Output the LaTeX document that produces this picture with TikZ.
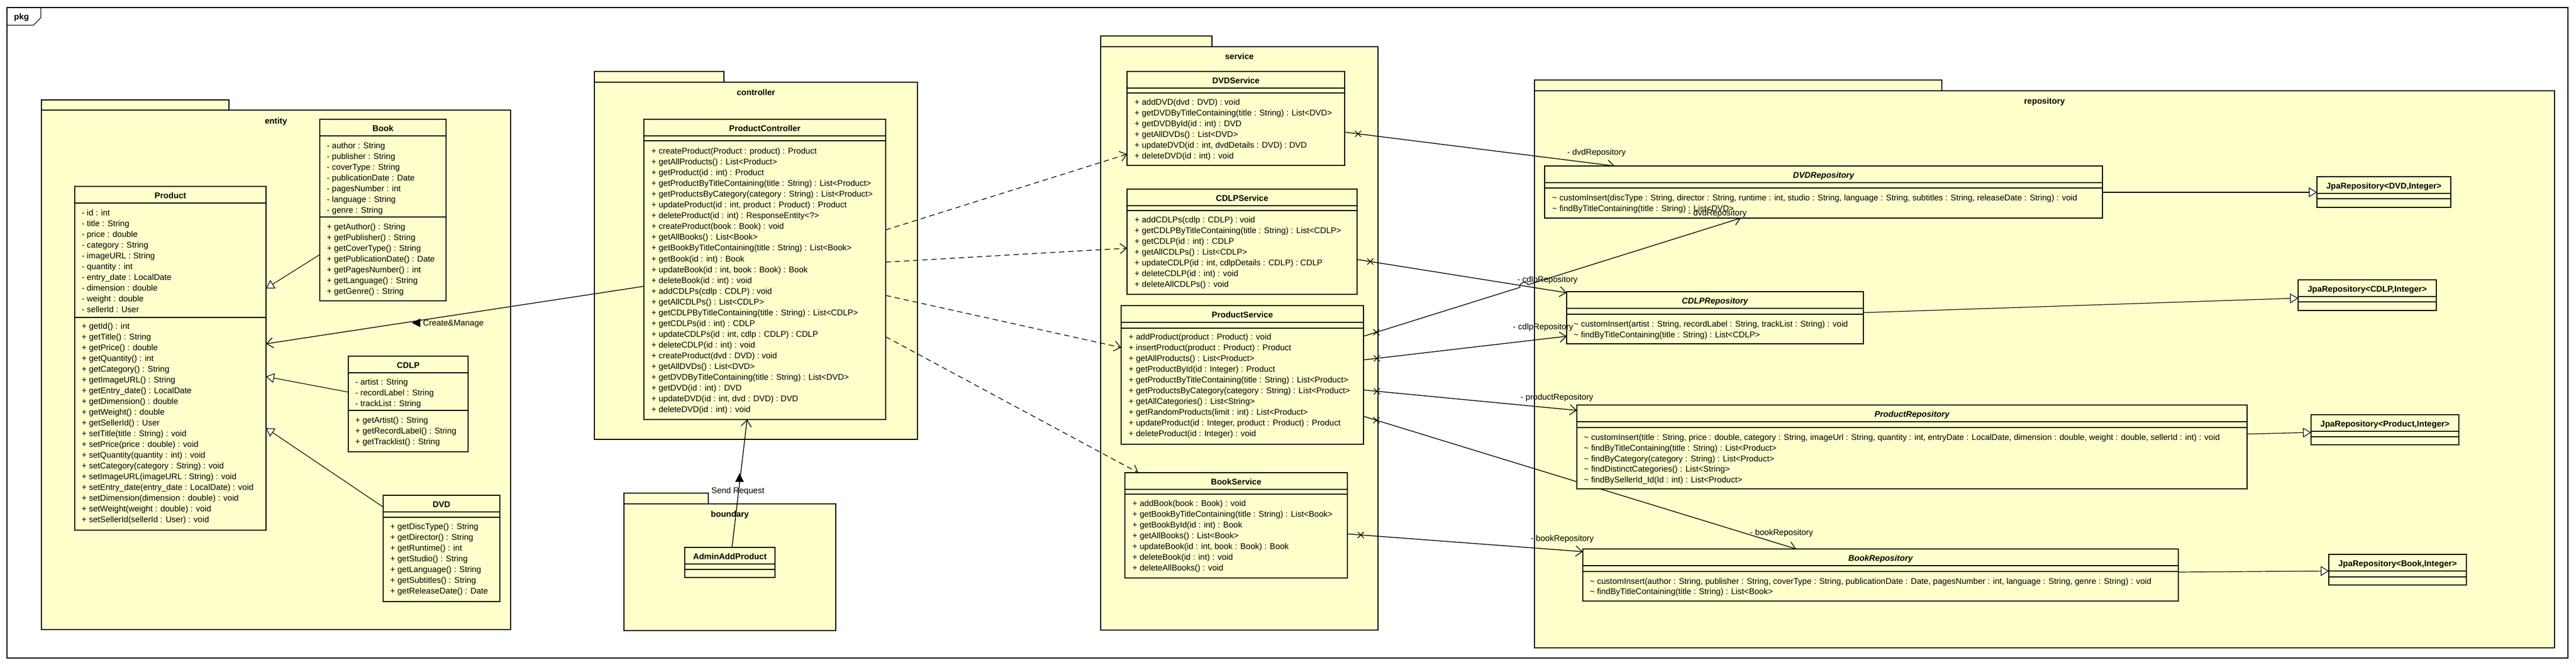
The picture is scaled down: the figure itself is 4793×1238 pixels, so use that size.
\documentclass[tikz,border=0pt]{standalone}
\usepackage{fontspec}
\setmainfont{Liberation Sans}
\usetikzlibrary{arrows.meta,calc,positioning,shapes.misc}

\definecolor{pkgyellow}{RGB}{255,255,204}

\pgfdeclarelayer{pkgs}
\pgfdeclarelayer{wires}
\pgfsetlayers{pkgs,wires,main}

\tikzset{
	pkgbody/.style={draw, line width=2.4pt, fill=pkgyellow},
	pkgname/.style={font=\fontsize{15.5pt}{19pt}\selectfont\bfseries, inner sep=0pt, anchor=base},
	umlclass/.style={draw, line width=2.6pt, fill=pkgyellow, inner sep=0pt, outer sep=0pt, anchor=north west},
	classname/.style={font=\fontsize{15.5pt}{19pt}\selectfont\bfseries, inner sep=0pt},
	abstractname/.style={font=\fontsize{15.5pt}{19pt}\selectfont\bfseries\itshape, inner sep=0pt},
	member/.style={font=\fontsize{15.5pt}{19pt}\selectfont, anchor=base west, inner sep=0pt},
	rolename/.style={font=\fontsize{15.5pt}{19pt}\selectfont, anchor=base west, inner sep=0pt},
	compline/.style={line width=1.1pt},
	generalize/.style={line width=1.2pt, -{Triangle[open, length=15pt, width=18pt, fill=white]}},
	navassoc/.style={line width=1.4pt, -{Straight Barb[length=12pt, width=19pt, line width=1.4pt]}},
	usedep/.style={line width=1.3pt, dash pattern=on 10pt off 7pt, -{Straight Barb[length=12pt, width=19pt, line width=1.3pt]}},
	xmark/.style={cross out, draw, line width=1.3pt, minimum size=10pt, inner sep=0pt},
}

\begin{document}
\begin{tikzpicture}[x=1pt, y=-1pt, line join=miter]
	
	% class box: title style, name, x, y, width, height, second rule, title
	\def\umlbox#1#2#3#4#5#6#7#8{%
		\node[umlclass, minimum width=#5pt, minimum height=#6pt] (#2) at (#3,#4) {};
		\node[#1, anchor=base] (#2title) at ([yshift=-22.5pt]#2.north) {#8};
		\draw[compline] ([yshift=-31pt]#2.north west) -- ([yshift=-31pt]#2.north east);
		\draw[compline] ([yshift=-#7pt]#2.north west) -- ([yshift=-#7pt]#2.north east);
	}
	% member lines: prefix, x, first baseline, step, list
	\def\members#1#2#3#4#5{%
		\foreach \m [count=\i from 0] in {#5}
		\node[member] (#1\i) at (#2,{#3+#4*\i}) {\m};
	}
	
	\useasboundingbox (0,0) rectangle (4793,1238);
	
	\begin{pgfonlayer}{pkgs}
		\fill[white] (0,0) rectangle (4793,1238);
		
		% outer frame
		\draw[line width=1.2pt] (13,14) rectangle (4778,1225);
		\draw[line width=1.2pt] (13,47) -- (62,47) -- (76,33) -- (76,14);
		\node[pkgname, anchor=base west] (pkglbl) at (26,37) {pkg};
		
		% packages
		\filldraw[pkgbody] (77,186) rectangle (426,205);
		\filldraw[pkgbody] (77,205) rectangle (950,1172);
		\node[pkgname] (entitylbl) at (513.5,230.5) {entity};
		
		\filldraw[pkgbody] (1106,133) rectangle (1347,153);
		\filldraw[pkgbody] (1106,153) rectangle (1707,818);
		\node[pkgname] (ctrllbl) at (1406.5,177.5) {controller};
		
		\filldraw[pkgbody] (1161,918) rectangle (1318,938);
		\filldraw[pkgbody] (1161,938) rectangle (1555,1174);
		\node[pkgname] (boundlbl) at (1358,962.5) {boundary};
		
		\filldraw[pkgbody] (2048,67) rectangle (2255,87);
		\filldraw[pkgbody] (2048,87) rectangle (2564,1173);
		\node[pkgname] (svclbl) at (2306,110.5) {service};
		
		\filldraw[pkgbody] (2855,149) rectangle (3613,169);
		\filldraw[pkgbody] (2855,169) rectangle (4753,1206);
		\node[pkgname] (repolbl) at (3804,193.5) {repository};
	\end{pgfonlayer}
	
	% entity
	\umlbox{classname}{book}{595}{222}{235}{338}{182}{Book}
	\members{bka}{608}{276.5}{20}{{- author : String},{- publisher : String},{- coverType : String},{- publicationDate : Date},{- pagesNumber : int},{- language : String},{- genre : String}}
	\members{bkm}{608}{427.5}{20}{{+ getAuthor() : String},{+ getPublisher() : String},{+ getCoverType() : String},{+ getPublicationDate() : Date},{+ getPagesNumber() : int},{+ getLanguage() : String},{+ getGenre() : String}}
	
	\umlbox{classname}{product}{139}{347}{356}{640}{244}{Product}
	\members{pa}{152}{401.5}{20}{{- id : int},{- title : String},{- price : double},{- category : String},{- imageURL : String},{- quantity : int},{- entry\_date : LocalDate},{- dimension : double},{- weight : double},{- sellerId : User}}
	\members{pm}{152}{612.5}{20}{{+ getId() : int},{+ getTitle() : String},{+ getPrice() : double},{+ getQuantity() : int},{+ getCategory() : String},{+ getImageURL() : String},{+ getEntry\_date() : LocalDate},{+ getDimension() : double},{+ getWeight() : double},{+ getSellerId() : User},{+ setTitle(title : String) : void},{+ setPrice(price : double) : void},{+ setQuantity(quantity : int) : void},{+ setCategory(category : String) : void},{+ setImageURL(imageURL : String) : void},{+ setEntry\_date(entry\_date : LocalDate) : void},{+ setDimension(dimension : double) : void},{+ setWeight(weight : double) : void},{+ setSellerId(sellerId : User) : void}}
	
	\umlbox{classname}{cdlp}{648}{663}{223}{178}{101}{CDLP}
	\members{ca}{661}{716.5}{20}{{- artist : String},{- recordLabel : String},{- trackList : String}}
	\members{cm}{661}{787.5}{20}{{+ getArtist() : String},{+ getRecordLabel() : String},{+ getTracklist() : String}}
	
	\umlbox{classname}{dvd}{713}{922}{217}{198}{41}{DVD}
	\members{dm}{726}{985.5}{20}{{+ getDiscType() : String},{+ getDirector() : String},{+ getRuntime() : int},{+ getStudio() : String},{+ getLanguage() : String},{+ getSubtitles() : String},{+ getReleaseDate() : Date}}
	
	% controller and boundary
	\umlbox{classname}{prodctrl}{1198}{222}{450}{559}{40}{ProductController}
	\members{pcm}{1212}{286.5}{20.05}{{+ createProduct(Product : product) : Product},{+ getAllProducts() : List<Product>},{+ getProduct(id : int) : Product},{+ getProductByTitleContaining(title : String) : List<Product>},{+ getProductsByCategory(category : String) : List<Product>},{+ updateProduct(id : int, product : Product) : Product},{+ deleteProduct(id : int) : ResponseEntity<?>},{+ createProduct(book : Book) : void},{+ getAllBooks() : List<Book>},{+ getBookByTitleContaining(title : String) : List<Book>},{+ getBook(id : int) : Book},{+ updateBook(id : int, book : Book) : Book},{+ deleteBook(id : int) : void},{+ addCDLPs(cdlp : CDLP) : void},{+ getAllCDLPs() : List<CDLP>},{+ getCDLPByTitleContaining(title : String) : List<CDLP>},{+ getCDLPs(id : int) : CDLP},{+ updateCDLPs(id : int, cdlp : CDLP) : CDLP},{+ deleteCDLP(id : int) : void},{+ createProduct(dvd : DVD) : void},{+ getAllDVDs() : List<DVD>},{+ getDVDByTitleContaining(title : String) : List<DVD>},{+ getDVD(id : int) : DVD},{+ updateDVD(id : int, dvd : DVD) : DVD},{+ deleteDVD(id : int) : void}}
	
	\umlbox{classname}{admin}{1274}{1019}{168}{56}{41}{AdminAddProduct}
	
	% services
	\umlbox{classname}{dvdsvc}{2097}{133}{405}{175}{40}{DVDService}
	\members{dsm}{2111}{195.5}{20}{{+ addDVD(dvd : DVD) : void},{+ getDVDByTitleContaining(title : String) : List<DVD>},{+ getDVDById(id : int) : DVD},{+ getAllDVDs() : List<DVD>},{+ updateDVD(id : int, dvdDetails : DVD) : DVD},{+ deleteDVD(id : int) : void}}
	
	\umlbox{classname}{cdlpsvc}{2097}{352}{428}{196}{40}{CDLPService}
	\members{csm}{2111}{414.5}{20}{{+ addCDLPs(cdlp : CDLP) : void},{+ getCDLPByTitleContaining(title : String) : List<CDLP>},{+ getCDLP(id : int) : CDLP},{+ getAllCDLPs() : List<CDLP>},{+ updateCDLP(id : int, cdlpDetails : CDLP) : CDLP},{+ deleteCDLP(id : int) : void},{+ deleteAllCDLPs() : void}}
	
	\umlbox{classname}{prodsvc}{2086}{569}{451}{258}{42}{ProductService}
	\members{psm}{2100}{632.5}{20}{{+ addProduct(product : Product) : void},{+ insertProduct(product : Product) : Product},{+ getAllProducts() : List<Product>},{+ getProductById(id : Integer) : Product},{+ getProductByTitleContaining(title : String) : List<Product>},{+ getProductsByCategory(category : String) : List<Product>},{+ getAllCategories() : List<String>},{+ getRandomProducts(limit : int) : List<Product>},{+ updateProduct(id : Integer, product : Product) : Product},{+ deleteProduct(id : Integer) : void}}
	
	\umlbox{classname}{booksvc}{2093}{880}{414}{196}{40}{BookService}
	\members{bsm}{2107}{942.5}{20}{{+ addBook(book : Book) : void},{+ getBookByTitleContaining(title : String) : List<Book>},{+ getBookById(id : int) : Book},{+ getAllBooks() : List<Book>},{+ updateBook(id : int, book : Book) : Book},{+ deleteBook(id : int) : void},{+ deleteAllBooks() : void}}
	
	% repositories
	\umlbox{abstractname}{dvdrepo}{2874}{309}{1038}{97}{41}{DVDRepository}
	\members{drm}{2888}{373.5}{19.5}{{\textasciitilde{} customInsert(discType : String, director : String, runtime : int, studio : String, language : String, subtitles : String, releaseDate : String) : void},{\textasciitilde{} findByTitleContaining(title : String) : List<DVD>}}
	
	\umlbox{abstractname}{cdlprepo}{2915}{543}{552}{97}{42}{CDLPRepository}
	\members{crm}{2928}{608.5}{20}{{\textasciitilde{} customInsert(artist : String, recordLabel : String, trackList : String) : void},{\textasciitilde{} findByTitleContaining(title : String) : List<CDLP>}}
	
	\umlbox{abstractname}{prodrepo}{2934}{754}{1247}{156}{42}{ProductRepository}
	\members{prm}{2947}{819.5}{19.8}{{\textasciitilde{} customInsert(title : String, price : double, category : String, imageUrl : String, quantity : int, entryDate : LocalDate, dimension : double, weight : double, sellerId : int) : void},{\textasciitilde{} findByTitleContaining(title : String) : List<Product>},{\textasciitilde{} findByCategory(category : String) : List<Product>},{\textasciitilde{} findDistinctCategories() : List<String>},{\textasciitilde{} findBySellerId\_Id(Id : int) : List<Product>}}
	
	\umlbox{abstractname}{bookrepo}{2945}{1022}{1108}{97}{42}{BookRepository}
	\members{brm}{2958}{1087.5}{19}{{\textasciitilde{} customInsert(author : String, publisher : String, coverType : String, publicationDate : Date, pagesNumber : int, language : String, genre : String) : void},{\textasciitilde{} findByTitleContaining(title : String) : List<Book>}}
	
	\umlbox{classname}{jpadvd}{4311}{329}{249}{57}{41}{JpaRepository<DVD,Integer>}
	\umlbox{classname}{jpacdlp}{4276}{521}{257}{57}{41}{JpaRepository<CDLP,Integer>}
	\umlbox{classname}{jpaprod}{4300}{772}{275}{56}{41}{JpaRepository<Product,Integer>}
	\umlbox{classname}{jpabook}{4333}{1032}{256}{57}{42}{JpaRepository<Book,Integer>}
	
	% hop where the product->dvd line jumps the cdlp line
	\coordinate (hopA) at (2828,535);
	\coordinate (hopB) at (2843,530);
	
	\begin{pgfonlayer}{wires}
		% generalizations in entity
		\draw[generalize] ([yshift=-252pt]book.north west) -- ([yshift=-190pt]product.north east);
		\draw[generalize] ([yshift=-67pt]cdlp.north west) -- ([yshift=-354pt]product.north east);
		\draw[generalize] ([yshift=-22pt]dvd.north west) -- ([yshift=-450pt]product.north east);
		
		% controller creates products, boundary sends requests
		\draw[navassoc] ([yshift=-311pt]prodctrl.north west) -- ([yshift=-293pt]product.north east);
		\draw[navassoc] ([xshift=88pt]admin.north west) -- ([xshift=192pt]prodctrl.south west);
		
		% controller uses the services
		\draw[usedep] ([yshift=-206pt]prodctrl.north east) -- ([yshift=-154pt]dvdsvc.north west);
		\draw[usedep] ([yshift=-266pt]prodctrl.north east) -- ([yshift=-110pt]cdlpsvc.north west);
		\draw[usedep] ([yshift=-328pt]prodctrl.north east) -- ([yshift=-78pt]prodsvc.north west);
		\draw[usedep] ([yshift=-405pt]prodctrl.north east) -- ([xshift=25pt]booksvc.north west);
		
		% services hold repositories
		\draw[navassoc] ([yshift=-113pt]dvdsvc.north east) coordinate (dsout) -- ([xshift=130pt]dvdrepo.north west) coordinate (dsin);
		\draw[navassoc] ([yshift=-131pt]cdlpsvc.north east) coordinate (csout) -- ([yshift=-2pt]cdlprepo.north west) coordinate (csin);
		\draw[navassoc] ([yshift=-57pt]prodsvc.north east) coordinate (psout1) -- (hopA)
		.. controls +(-2.7,-8.6) and +(-2.7,-8.6) .. (hopB) -- ([xshift=365pt]dvdrepo.south west);
		\draw[navassoc] ([yshift=-101pt]prodsvc.north east) coordinate (psout2) -- ([yshift=-83pt]cdlprepo.north west) coordinate (psin2);
		\draw[navassoc] ([yshift=-157pt]prodsvc.north east) coordinate (psout3) -- ([yshift=-10pt]prodrepo.north west) coordinate (psin3);
		\draw[navassoc] ([yshift=-206pt]prodsvc.north east) coordinate (psout4) -- ([xshift=397pt]bookrepo.north west) coordinate (psin4);
		\draw[navassoc] ([yshift=-114pt]booksvc.north east) coordinate (bsout) -- ([yshift=-5pt]bookrepo.north west) coordinate (bsin);
		
		% repositories extend JpaRepository
		\draw[generalize] ([yshift=-49pt]dvdrepo.north east) -- ([yshift=-29pt]jpadvd.north west);
		\draw[generalize] ([yshift=-39pt]cdlprepo.north east) -- ([yshift=-34pt]jpacdlp.north west);
		\draw[generalize] ([yshift=-54pt]prodrepo.north east) -- ([yshift=-33pt]jpaprod.north west);
		\draw[generalize] ([yshift=-43pt]bookrepo.north east) -- ([yshift=-31pt]jpabook.north west);
	\end{pgfonlayer}
	
	% non-navigable ends
	\node[xmark] (x1) at ($(dsout)!25pt!(dsin)$) {};
	\node[xmark] (x2) at ($(csout)!25pt!(csin)$) {};
	\node[xmark] (x3) at ($(psout1)!25pt!(hopA)$) {};
	\node[xmark] (x4) at ($(psout2)!25pt!(psin2)$) {};
	\node[xmark] (x5) at ($(psout3)!25pt!(psin3)$) {};
	\node[xmark] (x6) at ($(psout4)!25pt!(psin4)$) {};
	\node[xmark] (x7) at ($(bsout)!25pt!(bsin)$) {};
	
	% association names with direction marks
	\node[rolename] (cmlbl) at (787,606.5) {Create\&Manage};
	\fill ([xshift=-21pt,yshift=5.5pt]cmlbl.base west) -- ++(16,-8) -- ++(0,16) -- cycle;
	\node[rolename, anchor=base] (sendlbl) at (1373,918.5) {Send Request};
	\fill (1376,881) -- (1384,897) -- (1368,897) -- cycle;
	
	% role names
	\node[rolename] (dvdrole1) at (2916,288.5) {- dvdRepository};
	\node[rolename] (dvdrole2) at (3141,401.5) {- dvdRepository};
	\node[rolename] (cdlprole1) at (2823,525.5) {- cdlpRepository};
	\node[rolename] (cdlprole2) at (2815,613.5) {- cdlpRepository};
	\node[rolename] (prodrole) at (2829,744.5) {- productRepository};
	\node[rolename] (bookrole1) at (3256,996.5) {- bookRepository};
	\node[rolename] (bookrole2) at (2848,1007.5) {- bookRepository};
	
\end{tikzpicture}
\end{document}
